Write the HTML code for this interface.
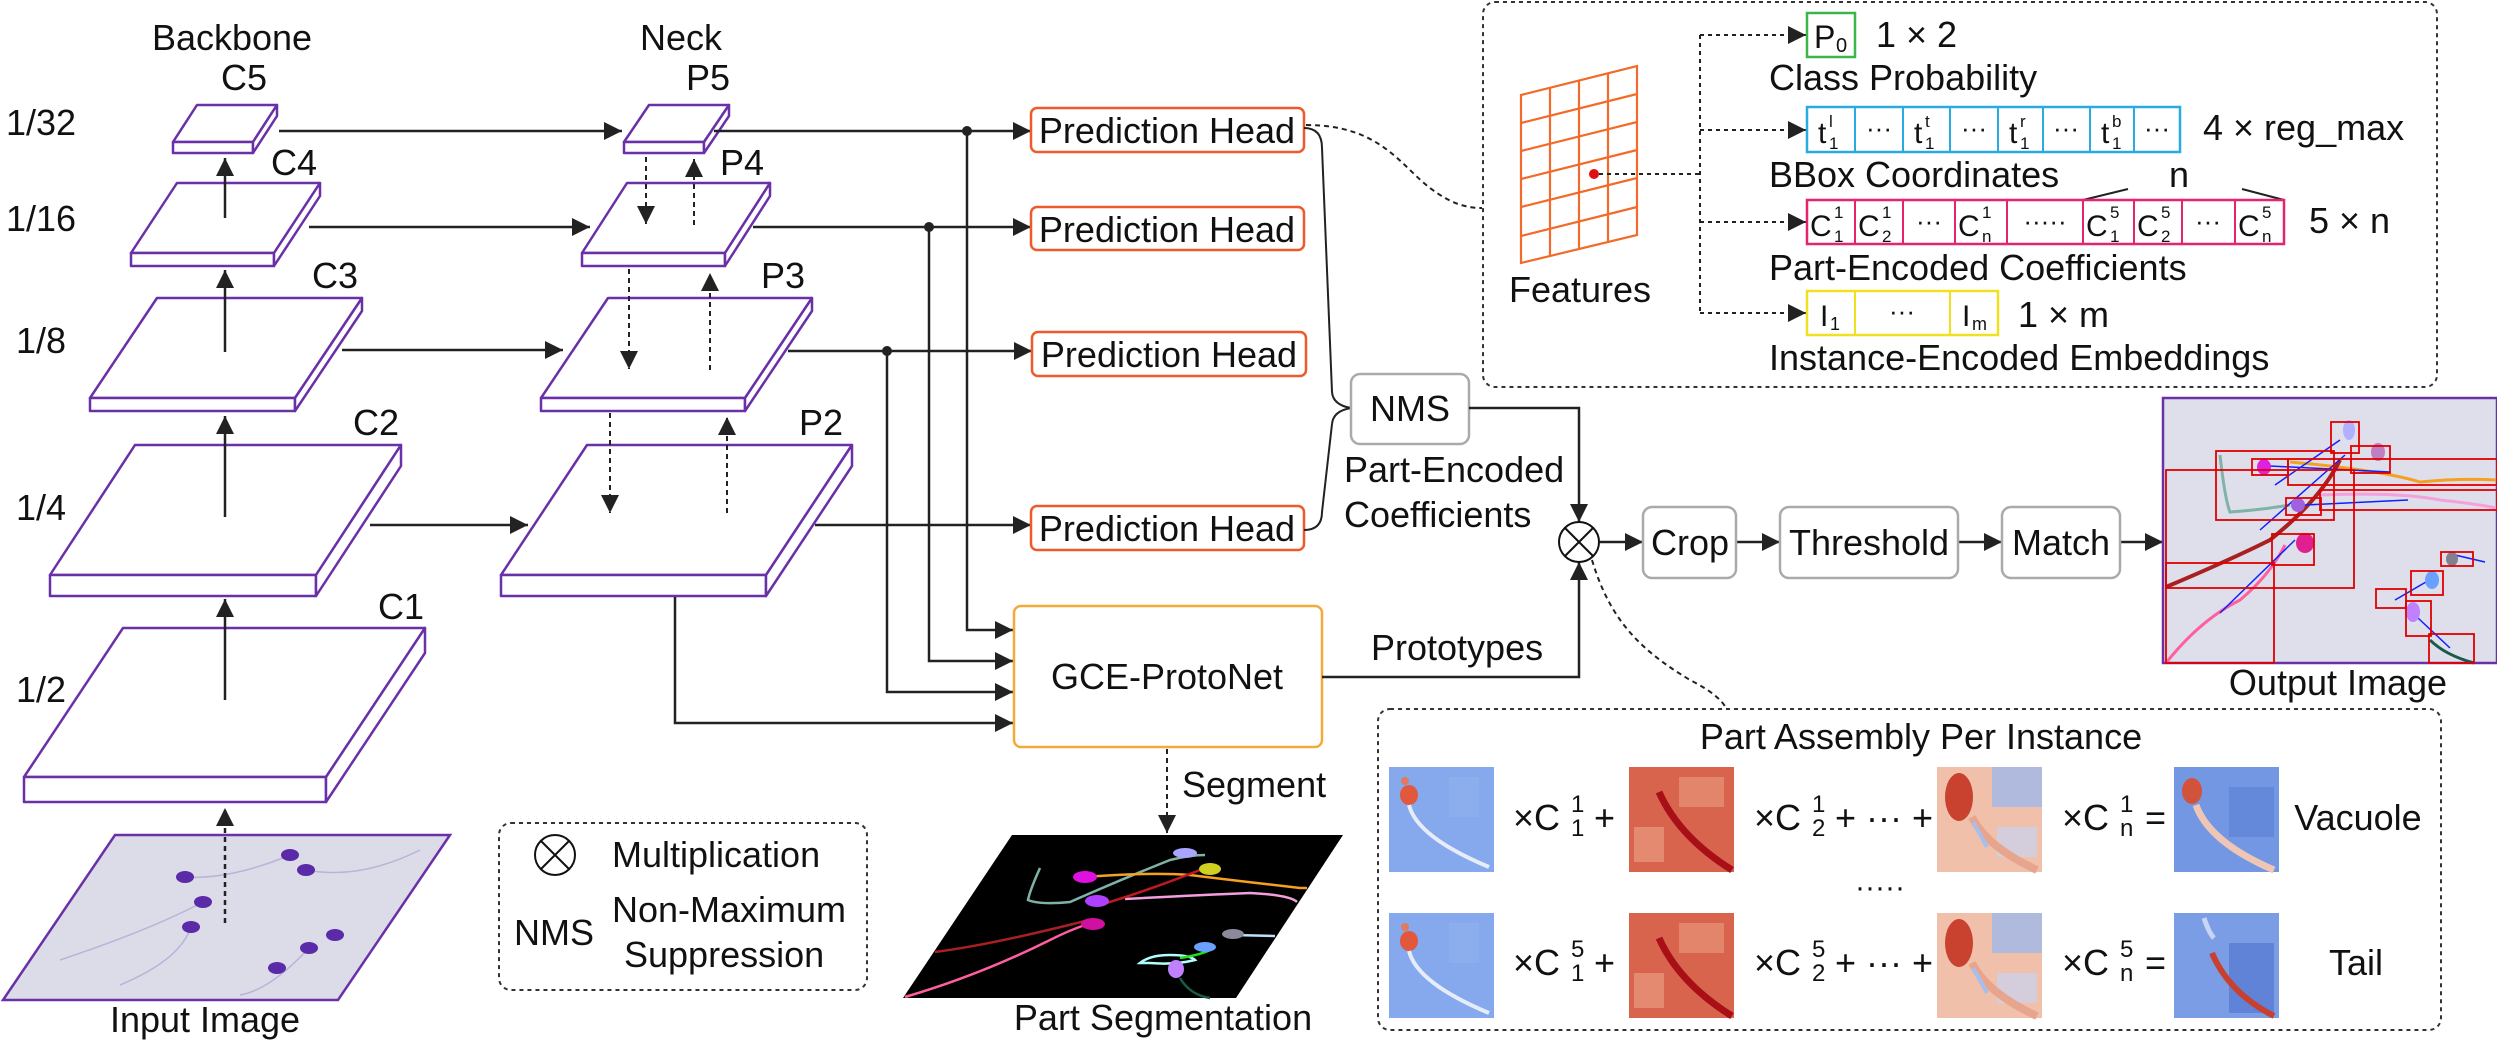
<!DOCTYPE html>
<html><head><meta charset="utf-8"><style>
html,body{margin:0;padding:0;background:#fff;}
svg{display:block;}
text{font-family:"Liberation Sans",Arial,sans-serif;fill:#111;}
</style></head><body>
<svg width="2497" height="1044" viewBox="0 0 2497 1044" xmlns="http://www.w3.org/2000/svg">
<defs>
<marker id="ah" viewBox="0 0 10 10" refX="10" refY="5" markerWidth="20" markerHeight="18" markerUnits="userSpaceOnUse" orient="auto"><path d="M0,0 L10,5 L0,10 z" fill="#222"/></marker>
<g id="hmA">
<rect width="105" height="105" fill="#86a8ec"/>
<rect x="60" y="10" width="30" height="40" fill="#93b2ee" opacity=".6"/>
<ellipse cx="20" cy="28" rx="9" ry="10" fill="#e2583d"/>
<circle cx="16" cy="14" r="4" fill="#e07a60"/>
<path d="M20,38 Q28,70 100,100" stroke="#e6ecf8" stroke-width="4" fill="none"/>
</g>
<g id="hmB">
<rect width="105" height="105" fill="#d8644d"/>
<rect x="50" y="10" width="45" height="30" fill="#e89377" opacity=".7"/>
<rect x="5" y="60" width="30" height="35" fill="#e99a80" opacity=".7"/>
<path d="M30,25 Q50,70 103,103" stroke="#a80f17" stroke-width="7" fill="none"/>
</g>
<g id="hmC">
<rect width="105" height="105" fill="#f1c0ab"/>
<rect x="55" y="0" width="50" height="40" fill="#9fb8ea" opacity=".8"/>
<rect x="60" y="60" width="40" height="30" fill="#c8d3ef" opacity=".7"/>
<ellipse cx="22" cy="30" rx="14" ry="24" fill="#c9412f"/>
<path d="M35,50 Q50,80 100,103" stroke="#e8a58e" stroke-width="8" fill="none"/>
<path d="M36,55 L50,80" stroke="#a5c0ee" stroke-width="4"/>
</g>
<g id="hmD">
<rect width="105" height="105" fill="#7397e2"/>
<rect x="55" y="20" width="45" height="50" fill="#5b80d6" opacity=".6"/>
<ellipse cx="18" cy="24" rx="10" ry="13" fill="#d2533b"/>
<path d="M22,38 Q35,75 100,103" stroke="#efc6b6" stroke-width="7" fill="none"/>
</g>
<g id="hmE">
<rect width="105" height="105" fill="#7b9de5"/>
<rect x="55" y="30" width="45" height="70" fill="#4f72cf" opacity=".6"/>
<path d="M30,5 Q35,20 40,25" stroke="#c8d5f2" stroke-width="5" fill="none"/>
<path d="M38,40 Q55,80 100,103" stroke="#c9402e" stroke-width="6" fill="none"/>
</g>
</defs>

<!-- headers -->
<text x="232" y="50" font-size="36" text-anchor="middle">Backbone</text>
<text x="681" y="50" font-size="36" text-anchor="middle">Neck</text>
<g font-size="36">
<text x="6" y="135">1/32</text><text x="6" y="231">1/16</text>
<text x="16" y="353">1/8</text><text x="16" y="520">1/4</text><text x="16" y="702">1/2</text>
</g>
<g font-size="36" text-anchor="middle">
<text x="244" y="90">C5</text><text x="294" y="175">C4</text><text x="335" y="288">C3</text><text x="376" y="435">C2</text><text x="401" y="619">C1</text>
<text x="708" y="90">P5</text><text x="742" y="175">P4</text><text x="783" y="288">P3</text><text x="821" y="435">P2</text>
</g>

<!-- slabs -->
<g fill="#fff" stroke="#6a30a8" stroke-width="2.5" stroke-linejoin="round">
<!-- C5 fl173 fy142 w80 dx24 dy37 t11 -->
<polygon points="173,142 253,142 277,105 197,105"/><rect x="173" y="142" width="80" height="11"/><polygon points="253,142 277,105 277,116 253,153"/>
<polygon points="131,253 274,253 320,183 177,183"/><rect x="131" y="253" width="143" height="13"/><polygon points="274,253 320,183 320,196 274,266"/>
<polygon points="90,398 295,398 362,298 157,298"/><rect x="90" y="398" width="205" height="13"/><polygon points="295,398 362,298 362,311 295,411"/>
<polygon points="50,575 316,575 401,445 135,445"/><rect x="50" y="575" width="266" height="21"/><polygon points="316,575 401,445 401,466 316,596"/>
<polygon points="24,777 326,777 425,628 123,628"/><rect x="24" y="777" width="302" height="25"/><polygon points="326,777 425,628 425,653 326,802"/>
<!-- neck -->
<polygon points="624,142 704,142 729,105 649,105"/><rect x="624" y="142" width="80" height="11"/><polygon points="704,142 729,105 729,116 704,153"/>
<polygon points="582,253 725,253 770,183 627,183"/><rect x="582" y="253" width="143" height="13"/><polygon points="725,253 770,183 770,196 725,266"/>
<polygon points="541,398 745,398 812,298 608,298"/><rect x="541" y="398" width="204" height="13"/><polygon points="745,398 812,298 812,311 745,411"/>
<polygon points="501,575 766,575 852,445 587,445"/><rect x="501" y="575" width="265" height="21"/><polygon points="766,575 852,445 852,466 766,596"/>
</g>

<!-- input image -->
<polygon points="115,835 450,835 338,1000 3,1000" fill="#dcdbe8" stroke="#6a30a8" stroke-width="2.5"/>
<g stroke="#b9b3d8" stroke-width="1.5" fill="none">
<path d="M185,877 Q230,880 290,855"/><path d="M203,902 Q150,930 60,960"/><path d="M306,870 Q360,880 420,850"/><path d="M309,948 Q270,990 240,995"/><path d="M191,927 Q180,960 120,985"/>
</g>
<g fill="#5a2aa8">
<ellipse cx="185" cy="877" rx="9" ry="6"/><ellipse cx="290" cy="855" rx="9" ry="6"/><ellipse cx="306" cy="870" rx="9" ry="6"/><ellipse cx="203" cy="902" rx="9" ry="6"/><ellipse cx="191" cy="927" rx="9" ry="6"/><ellipse cx="335" cy="935" rx="9" ry="6"/><ellipse cx="309" cy="948" rx="9" ry="6"/><ellipse cx="277" cy="968" rx="9" ry="6"/>
</g>
<text x="205" y="1032" font-size="36" text-anchor="middle">Input Image</text>

<!-- arrows backbone -->
<g stroke="#222" stroke-width="2.5" fill="none" marker-end="url(#ah)">
<line x1="225" y1="218" x2="225" y2="158"/>
<line x1="225" y1="352" x2="225" y2="270"/>
<line x1="225" y1="517" x2="225" y2="416"/>
<line x1="225" y1="700" x2="225" y2="599"/>
<line x1="225" y1="923" x2="225" y2="808" stroke-dasharray="5,4"/>
<line x1="279" y1="131" x2="622" y2="131"/>
<line x1="309" y1="227" x2="590" y2="227"/>
<line x1="342" y1="350" x2="563" y2="350"/>
<line x1="370" y1="525" x2="528" y2="525"/>
</g>
<g stroke="#222" stroke-width="2" fill="none" stroke-dasharray="5,4" marker-end="url(#ah)">
<line x1="646" y1="157" x2="646" y2="224"/><line x1="694" y1="225" x2="694" y2="159"/>
<line x1="629" y1="269" x2="629" y2="369"/><line x1="710" y1="370" x2="710" y2="273"/>
<line x1="610" y1="413" x2="610" y2="513"/><line x1="727" y1="513" x2="727" y2="417"/>
</g>

<!-- neck outputs -->
<g stroke="#222" stroke-width="2.5" fill="none" marker-end="url(#ah)">
<line x1="714" y1="131" x2="1031" y2="131"/>
<line x1="753" y1="227" x2="1031" y2="227"/>
<line x1="788" y1="351" x2="1032" y2="351"/>
<line x1="815" y1="525" x2="1031" y2="525"/>
<polyline points="967,131 967,630 1013,630"/>
<polyline points="929,227 929,661 1013,661"/>
<polyline points="887,351 887,692 1013,692"/>
<polyline points="675,597 675,723 1013,723"/>
</g>
<g fill="#222"><circle cx="967" cy="131" r="5"/><circle cx="929" cy="227" r="5"/><circle cx="887" cy="351" r="5"/></g>

<!-- prediction heads -->
<g fill="#fff" stroke="#ee5a2a" stroke-width="2.5">
<rect x="1031" y="108" width="273" height="44" rx="6"/>
<rect x="1031" y="207" width="273" height="43" rx="6"/>
<rect x="1032" y="332" width="274" height="44" rx="6"/>
<rect x="1031" y="506" width="273" height="44" rx="6"/>
</g>
<g font-size="36" text-anchor="middle">
<text x="1167" y="143">Prediction Head</text><text x="1167" y="242">Prediction Head</text>
<text x="1169" y="367">Prediction Head</text><text x="1167" y="541">Prediction Head</text>
</g>
<path d="M1304,128 Q1322,128 1322,148 L1332,392 Q1333,405 1351,408 Q1333,411 1332,424 L1322,512 Q1322,530 1304,530" stroke="#222" stroke-width="2" fill="none"/>
<path d="M1306,125 C1380,125 1400,165 1430,188 C1450,203 1465,208 1482,208" stroke="#222" stroke-width="2" fill="none" stroke-dasharray="5,4"/>

<!-- NMS -->
<rect x="1351" y="374" width="118" height="70" rx="9" fill="#fff" stroke="#aaa" stroke-width="2.5"/>
<text x="1410" y="421" font-size="36" text-anchor="middle">NMS</text>
<text x="1344" y="482" font-size="36">Part-Encoded</text>
<text x="1344" y="527" font-size="36">Coefficients</text>

<!-- GCE -->
<rect x="1014" y="606" width="308" height="141" rx="7" fill="#fff" stroke="#f5a93a" stroke-width="2.5"/>
<text x="1167" y="689" font-size="36" text-anchor="middle">GCE-ProtoNet</text>
<text x="1371" y="660" font-size="36">Prototypes</text>
<line x1="1167" y1="749" x2="1167" y2="833" stroke="#222" stroke-width="2" stroke-dasharray="5,4" marker-end="url(#ah)"/>
<text x="1182" y="797" font-size="36">Segment</text>

<!-- part segmentation -->
<polygon points="1012,835 1343,835 1236,998 903,998" fill="#000"/>
<g fill="none" stroke-width="2.5">
<path d="M1040,868 Q1030,890 1028,900 Q1040,905 1070,902 Q1120,880 1170,860 Q1190,855 1205,855" stroke="#7fb3a8"/>
<path d="M1085,877 Q1150,872 1190,875 Q1230,880 1300,888 L1307,888" stroke="#f5a020"/>
<path d="M1125,899 Q1200,895 1250,893 Q1290,895 1297,902" stroke="#f2a0dd"/>
<path d="M1100,905 Q1150,890 1205,868" stroke="#c01a20"/>
<path d="M935,952 Q990,945 1085,921" stroke="#a82020"/>
<path d="M905,997 Q980,975 1050,940 Q1070,930 1085,925" stroke="#ff5ea0"/>
<path d="M1140,963 Q1150,955 1170,955 Q1190,955 1195,960 Q1175,965 1150,963 Z" stroke="#b0ffff"/>
<path d="M1180,958 Q1200,955 1210,950" stroke="#20e020"/>
<path d="M1180,978 Q1190,995 1210,998" stroke="#1a5a4a"/>
<path d="M1233,935 L1275,936" stroke="#bde0ff"/>
</g>
<g>
<ellipse cx="1185" cy="853" rx="12" ry="5" fill="#a9a5ff"/><ellipse cx="1210" cy="869" rx="11" ry="6" fill="#d0d020"/>
<ellipse cx="1085" cy="877" rx="12" ry="6" fill="#e010e0"/><ellipse cx="1097" cy="901" rx="12" ry="6" fill="#b040ff"/>
<ellipse cx="1093" cy="924" rx="12" ry="6" fill="#d010a0"/><ellipse cx="1233" cy="934" rx="11" ry="5" fill="#8a8a9a"/>
<ellipse cx="1205" cy="947" rx="11" ry="5" fill="#6aa0ff"/><ellipse cx="1176" cy="969" rx="8" ry="9" fill="#c080ff"/>
</g>
<text x="1163" y="1030" font-size="36" text-anchor="middle">Part Segmentation</text>

<!-- legend -->
<rect x="499" y="823" width="368" height="167" rx="12" fill="none" stroke="#333" stroke-width="2" stroke-dasharray="4,4"/>
<circle cx="555" cy="855" r="20" fill="#fff" stroke="#111" stroke-width="2"/>
<path d="M541,841 L569,869 M569,841 L541,869" stroke="#111" stroke-width="2"/>
<text x="612" y="867" font-size="36">Multiplication</text>
<text x="554" y="945" font-size="36" text-anchor="middle">NMS</text>
<text x="612" y="922" font-size="36">Non-Maximum</text>
<text x="624" y="967" font-size="36">Suppression</text>

<!-- multiplication node & pipeline -->
<g stroke="#222" stroke-width="2.5" fill="none" marker-end="url(#ah)">
<polyline points="1469,408 1579,408 1579,522"/>
<polyline points="1322,677 1579,677 1579,562"/>
<line x1="1600" y1="542" x2="1643" y2="542"/>
<line x1="1736" y1="542" x2="1780" y2="542"/>
<line x1="1958" y1="542" x2="2002" y2="542"/>
<line x1="2120" y1="542" x2="2163" y2="542"/>
</g>
<circle cx="1579" cy="542" r="20" fill="#fff" stroke="#111" stroke-width="2"/>
<path d="M1565,528 L1593,556 M1593,528 L1565,556" stroke="#111" stroke-width="2"/>
<g fill="#fff" stroke="#aaa" stroke-width="2.5">
<rect x="1643" y="507" width="93" height="71" rx="9"/><rect x="1780" y="507" width="178" height="71" rx="9"/><rect x="2002" y="507" width="118" height="71" rx="9"/>
</g>
<g font-size="36" text-anchor="middle"><text x="1690" y="555">Crop</text><text x="1869" y="555">Threshold</text><text x="2061" y="555">Match</text></g>
<path d="M1592,560 C1610,620 1640,650 1690,680 C1710,690 1722,700 1726,708" stroke="#222" stroke-width="2" fill="none" stroke-dasharray="5,4"/>

<!-- output image -->
<rect x="2163" y="398" width="334" height="265" fill="#dedfea" stroke="#6a30a8" stroke-width="2.5"/>
<g fill="none" stroke-width="3">
<path d="M2290,462 Q2380,470 2420,482 Q2460,478 2497,480" stroke="#f5a020"/>
<path d="M2320,495 Q2400,492 2440,500 Q2470,503 2497,508" stroke="#f5a0dd"/>
<path d="M2166,587 Q2230,560 2270,540 Q2320,500 2340,460" stroke="#a82020" stroke-width="4"/>
<path d="M2166,663 Q2200,620 2240,600 Q2270,575 2285,545" stroke="#ff5ea0"/>
<path d="M2220,455 Q2225,500 2230,512 Q2260,510 2290,505" stroke="#7fb3a8"/>
<path d="M2430,640 Q2445,655 2474,663" stroke="#1a5a4a"/>
</g>
<g stroke="#1020ff" stroke-width="1.5">
<line x1="2340" y1="440" x2="2275" y2="485"/><line x1="2270" y1="466" x2="2390" y2="472"/><line x1="2345" y1="455" x2="2260" y2="530"/><line x1="2305" y1="505" x2="2408" y2="500"/><line x1="2295" y1="540" x2="2220" y2="613"/><line x1="2455" y1="555" x2="2485" y2="562"/><line x1="2426" y1="582" x2="2395" y2="600"/><line x1="2418" y1="618" x2="2450" y2="648"/>
</g>
<g>
<ellipse cx="2349" cy="430" rx="6" ry="10" fill="#b0b0ff"/><ellipse cx="2378" cy="452" rx="7" ry="9" fill="#c080c0"/><ellipse cx="2264" cy="467" rx="7" ry="8" fill="#e020e0"/><ellipse cx="2298" cy="505" rx="7" ry="7" fill="#a060e0"/><ellipse cx="2305" cy="543" rx="9" ry="10" fill="#e02090"/><ellipse cx="2452" cy="559" rx="6" ry="7" fill="#808090"/><ellipse cx="2432" cy="580" rx="7" ry="9" fill="#6aa0ff"/><ellipse cx="2413" cy="612" rx="7" ry="10" fill="#c080ff"/>
</g>
<g fill="none" stroke="#e00000" stroke-width="1.8">
<rect x="2331" y="422" width="28" height="31"/><rect x="2351" y="446" width="39" height="27"/><rect x="2216" y="451" width="118" height="69"/><rect x="2252" y="459" width="36" height="16"/><rect x="2288" y="459" width="209" height="26"/><rect x="2166" y="470" width="188" height="118"/><rect x="2286" y="498" width="35" height="17"/><rect x="2320" y="490" width="177" height="20"/><rect x="2272" y="534" width="42" height="31"/><rect x="2166" y="563" width="108" height="100"/><rect x="2441" y="552" width="32" height="14"/><rect x="2411" y="571" width="32" height="24"/><rect x="2376" y="589" width="30" height="19"/><rect x="2406" y="601" width="25" height="35"/><rect x="2429" y="634" width="45" height="29"/>
</g>
<text x="2338" y="695" font-size="36" text-anchor="middle">Output Image</text>

<!-- features box -->
<rect x="1483" y="2" width="954" height="385" rx="12" fill="none" stroke="#333" stroke-width="2" stroke-dasharray="4,4"/>
<g stroke="#f26b2a" stroke-width="2.2" fill="none">
<polygon points="1521,95 1637,66 1637,235 1521,263"/>
<line x1="1550" y1="88" x2="1550" y2="256"/><line x1="1579" y1="81" x2="1579" y2="249"/><line x1="1608" y1="73" x2="1608" y2="242"/>
<line x1="1521" y1="123" x2="1637" y2="94"/><line x1="1521" y1="151" x2="1637" y2="122"/><line x1="1521" y1="179" x2="1637" y2="150"/><line x1="1521" y1="207" x2="1637" y2="178"/><line x1="1521" y1="236" x2="1637" y2="207"/>
</g>
<circle cx="1594" cy="174" r="5" fill="#e01010"/>
<g stroke="#222" stroke-width="2" fill="none" stroke-dasharray="4,4">
<line x1="1599" y1="174" x2="1700" y2="174"/><line x1="1700" y1="35" x2="1700" y2="313"/>
</g>
<g stroke="#222" stroke-width="2" fill="none" stroke-dasharray="4,4" marker-end="url(#ah)">
<line x1="1700" y1="35" x2="1806" y2="35"/><line x1="1700" y1="130" x2="1806" y2="130"/><line x1="1700" y1="222" x2="1806" y2="222"/><line x1="1700" y1="313" x2="1806" y2="313"/>
</g>
<text x="1580" y="302" font-size="36" text-anchor="middle">Features</text>
<rect x="1807" y="13" width="48" height="44" fill="#fff" stroke="#3cb54a" stroke-width="2.5"/>
<text x="1814" y="48" font-size="32">P</text><text x="1836" y="52" font-size="20">0</text>
<text x="1876" y="47" font-size="36">1 × 2</text>
<text x="1769" y="90" font-size="36">Class Probability</text>
<!-- bbox row -->
<rect x="1807" y="107" width="373" height="45" fill="#fff" stroke="#29abe2" stroke-width="2.5"/>
<g stroke="#29abe2" stroke-width="2"><line x1="1855" y1="107" x2="1855" y2="152"/><line x1="1903" y1="107" x2="1903" y2="152"/><line x1="1950" y1="107" x2="1950" y2="152"/><line x1="1998" y1="107" x2="1998" y2="152"/><line x1="2043" y1="107" x2="2043" y2="152"/><line x1="2090" y1="107" x2="2090" y2="152"/><line x1="2134" y1="107" x2="2134" y2="152"/></g>
<g font-size="30"><text x="1818" y="143">t</text><text x="1914" y="143">t</text><text x="2009" y="143">t</text><text x="2101" y="143">t</text></g>
<g font-size="17"><text x="1829" y="127">l</text><text x="1829" y="149">1</text><text x="1925" y="127">t</text><text x="1925" y="149">1</text><text x="2020" y="127">r</text><text x="2020" y="149">1</text><text x="2112" y="127">b</text><text x="2112" y="149">1</text></g>
<g font-size="26" text-anchor="middle"><text x="1879" y="137">···</text><text x="1974" y="137">···</text><text x="2066" y="137">···</text><text x="2157" y="137">···</text></g>
<text x="2203" y="140" font-size="36">4 × reg_max</text>
<text x="1769" y="187" font-size="36">BBox Coordinates</text>
<text x="2179" y="187" font-size="36" text-anchor="middle">n</text>
<path d="M2083,200 L2128,189 M2242,189 L2284,200" stroke="#222" stroke-width="2"/>
<!-- coeff row -->
<rect x="1807" y="200" width="477" height="44" fill="#fff" stroke="#e6246e" stroke-width="2.5"/>
<g stroke="#e6246e" stroke-width="2"><line x1="1855" y1="200" x2="1855" y2="244"/><line x1="1903" y1="200" x2="1903" y2="244"/><line x1="1955" y1="200" x2="1955" y2="244"/><line x1="2007" y1="200" x2="2007" y2="244"/><line x1="2083" y1="200" x2="2083" y2="244"/><line x1="2134" y1="200" x2="2134" y2="244"/><line x1="2182" y1="200" x2="2182" y2="244"/><line x1="2235" y1="200" x2="2235" y2="244"/></g>
<g font-size="30"><text x="1810" y="236">C</text><text x="1858" y="236">C</text><text x="1958" y="236">C</text><text x="2086" y="236">C</text><text x="2137" y="236">C</text><text x="2238" y="236">C</text></g>
<g font-size="17"><text x="1834" y="218">1</text><text x="1834" y="242">1</text><text x="1882" y="218">1</text><text x="1882" y="242">2</text><text x="1982" y="218">1</text><text x="1982" y="242">n</text><text x="2110" y="218">5</text><text x="2110" y="242">1</text><text x="2161" y="218">5</text><text x="2161" y="242">2</text><text x="2262" y="218">5</text><text x="2262" y="242">n</text></g>
<g font-size="26" text-anchor="middle"><text x="1929" y="230">···</text><text x="2045" y="230">·····</text><text x="2208" y="230">···</text></g>
<text x="2309" y="233" font-size="36">5 × n</text>
<text x="1769" y="280" font-size="36">Part-Encoded Coefficients</text>
<!-- instance row -->
<rect x="1807" y="291" width="191" height="44" fill="#fff" stroke="#f0e020" stroke-width="2.5"/>
<g stroke="#f0e020" stroke-width="2"><line x1="1855" y1="291" x2="1855" y2="335"/><line x1="1950" y1="291" x2="1950" y2="335"/></g>
<text x="1820" y="326" font-size="30">I</text><text x="1830" y="330" font-size="18">1</text>
<text x="1902" y="320" font-size="26" text-anchor="middle">···</text>
<text x="1962" y="326" font-size="30">I</text><text x="1972" y="330" font-size="18">m</text>
<text x="2018" y="327" font-size="36">1 × m</text>
<text x="1769" y="370" font-size="36">Instance-Encoded Embeddings</text>

<!-- part assembly -->
<rect x="1378" y="709" width="1063" height="321" rx="12" fill="none" stroke="#333" stroke-width="2" stroke-dasharray="4,4"/>
<text x="1921" y="749" font-size="36" text-anchor="middle">Part Assembly Per Instance</text>
<use href="#hmA" x="1389" y="767"/><use href="#hmB" x="1629" y="767"/><use href="#hmC" x="1937" y="767"/><use href="#hmD" x="2174" y="767"/>
<use href="#hmA" x="1389" y="913"/><use href="#hmB" x="1629" y="913"/><use href="#hmC" x="1937" y="913"/><use href="#hmE" x="2174" y="913"/>
<g font-size="36">
<text x="1513" y="830">×C</text><text x="1594" y="830">+</text>
<text x="1754" y="830">×C</text><text x="1835" y="830">+ ··· +</text>
<text x="2062" y="830">×C</text><text x="2145" y="830">=</text>
<text x="1513" y="975">×C</text><text x="1594" y="975">+</text>
<text x="1754" y="975">×C</text><text x="1835" y="975">+ ··· +</text>
<text x="2062" y="975">×C</text><text x="2145" y="975">=</text>
</g>
<g font-size="24">
<text x="1571" y="812">1</text><text x="1571" y="836">1</text>
<text x="1812" y="812">1</text><text x="1812" y="836">2</text>
<text x="2120" y="812">1</text><text x="2120" y="836">n</text>
<text x="1571" y="957">5</text><text x="1571" y="981">1</text>
<text x="1812" y="957">5</text><text x="1812" y="981">2</text>
<text x="2120" y="957">5</text><text x="2120" y="981">n</text>
</g>
<text x="2358" y="830" font-size="36" text-anchor="middle">Vacuole</text>
<text x="2356" y="975" font-size="36" text-anchor="middle">Tail</text>
<text x="1880" y="897" font-size="30" text-anchor="middle">·····</text>
</svg>
</body></html>
